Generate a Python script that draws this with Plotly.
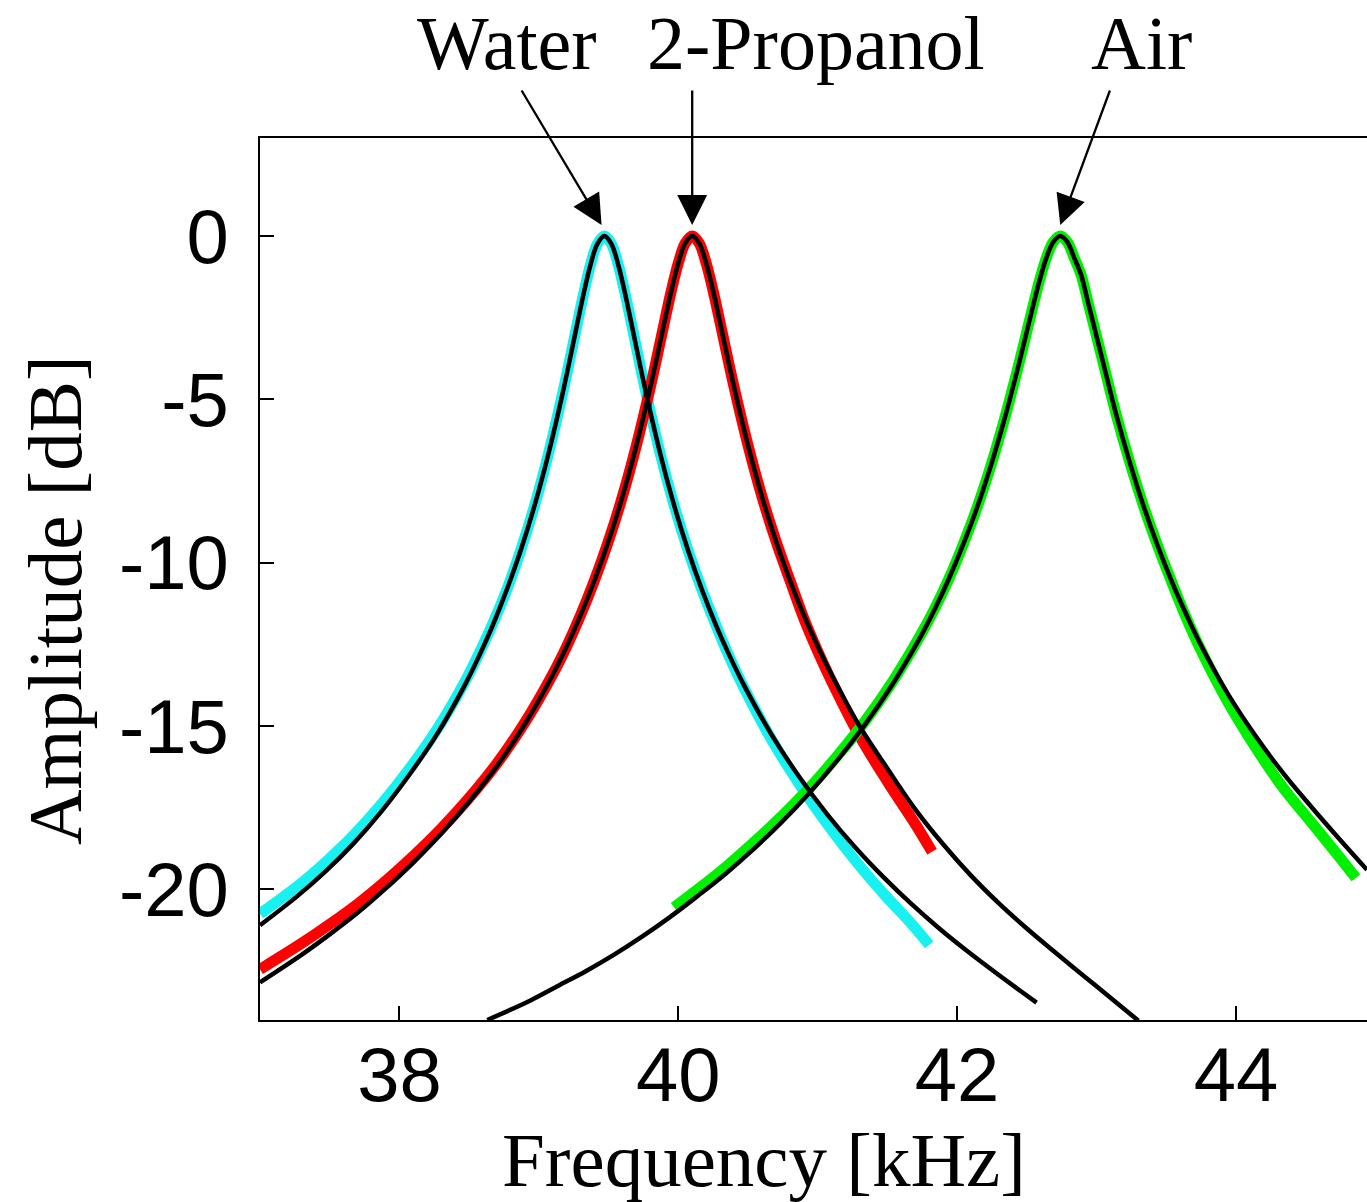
import plotly.graph_objects as go

# ---- Data ----
# Water: fitted curve (black)
water_fit_x = [37.00, 37.27, 37.47, 37.67, 37.87, 38.07, 38.27, 38.47, 38.57, 38.67, 38.77, 38.87, 38.97, 39.07,
               39.17, 39.22, 39.27, 39.32, 39.37, 39.42, 39.47, 39.52, 39.57, 39.62, 39.67, 39.72, 39.77, 39.87,
               39.97, 40.07, 40.17, 40.27, 40.37, 40.47, 40.67, 40.87, 41.07, 41.27, 41.47, 41.67, 41.87, 42.07,
               42.27, 42.47, 42.57]
water_fit_y = [-21.1, -20.2, -19.45, -18.6, -17.62, -16.5, -15.25, -13.74, -12.87, -11.91, -10.83, -9.62, -8.24, -6.65,
               -4.83, -3.83, -2.80, -1.79, -0.89, -0.24, 0.0, -0.24, -0.89, -1.79, -2.80, -3.83, -4.83, -6.65,
               -8.24, -9.62, -10.83, -11.91, -12.87, -13.74, -15.27, -16.57, -17.71, -18.72, -19.62, -20.44, -21.19, -21.88,
               -22.53, -23.16, -23.47]
# Water: measured (cyan)
water_x = [37.00, 37.27, 37.47, 37.67, 37.87, 38.07, 38.27, 38.47, 38.57, 38.67, 38.77, 38.87, 38.97, 39.07,
           39.17, 39.22, 39.27, 39.32, 39.37, 39.42, 39.47, 39.52, 39.57, 39.62, 39.67, 39.72, 39.77, 39.87,
           39.97, 40.07, 40.17, 40.27, 40.37, 40.47, 40.67, 40.87, 41.07, 41.27, 41.47, 41.67, 41.80]
water_y = [-20.75, -19.9, -19.17, -18.35, -17.4, -16.32, -15.1, -13.64, -12.79, -11.86, -10.83, -9.62, -8.24, -6.65,
           -4.83, -3.83, -2.80, -1.79, -0.89, -0.24, 0.0, -0.24, -0.89, -1.79, -2.80, -3.83, -4.83, -6.65,
           -8.24, -9.62, -10.83, -11.91, -12.92, -13.82, -15.42, -16.79, -18.01, -19.12, -20.12, -21.04, -21.7]

# 2-Propanol: fitted curve (black)
prop_fit_x = [37.00, 37.30, 37.50, 37.70, 37.90, 38.10, 38.30, 38.50, 38.70, 38.90, 39.10, 39.20, 39.30, 39.40,
              39.50, 39.60, 39.70, 39.80, 39.85, 39.90, 39.95, 40.00, 40.05, 40.10, 40.15, 40.20, 40.25, 40.30,
              40.35, 40.40, 40.50, 40.60, 40.70, 40.80, 40.90, 41.00, 41.10, 41.30, 41.50, 41.70, 41.90, 42.10,
              42.30, 42.50, 42.70, 42.90, 43.10, 43.30]
prop_fit_y = [-22.85, -22.0, -21.38, -20.72, -19.98, -19.18, -18.3, -17.32, -16.22, -14.94, -13.43, -12.56, -11.60, -10.53,
              -9.33, -7.97, -6.40, -4.62, -3.65, -2.65, -1.68, -0.83, -0.22, 0.0, -0.22, -0.83, -1.68, -2.65,
              -3.65, -4.62, -6.40, -7.97, -9.33, -10.53, -11.60, -12.56, -13.43, -15.0, -16.3, -17.55, -18.62, -19.58,
              -20.43, -21.2, -21.92, -22.62, -23.32, -24.02]
# 2-Propanol: measured (red)
prop_x = [37.00, 37.30, 37.50, 37.70, 37.90, 38.10, 38.30, 38.50, 38.70, 38.90, 39.10, 39.20, 39.30, 39.40,
          39.50, 39.60, 39.70, 39.80, 39.85, 39.90, 39.95, 40.00, 40.05, 40.10, 40.15, 40.20, 40.25, 40.30,
          40.35, 40.40, 40.50, 40.60, 40.70, 40.80, 40.90, 41.00, 41.10, 41.30, 41.50, 41.70, 41.82]
prop_y = [-22.45, -21.65, -21.07, -20.45, -19.75, -18.98, -18.14, -17.2, -16.14, -14.89, -13.41, -12.56, -11.60, -10.53,
          -9.33, -7.97, -6.40, -4.62, -3.65, -2.65, -1.68, -0.83, -0.22, 0.0, -0.22, -0.83, -1.68, -2.65,
          -3.65, -4.62, -6.40, -7.97, -9.33, -10.53, -11.7, -12.71, -13.63, -15.3, -16.7, -18.0, -18.85]

# Air: fitted curve (black)
air_fit_x = [38.63, 38.94, 39.14, 39.34, 39.54, 39.74, 39.94, 40.14, 40.34, 40.54, 40.74, 40.94, 41.14, 41.34,
             41.54, 41.74, 41.84, 41.94, 42.04, 42.14, 42.24, 42.34, 42.44, 42.49, 42.54, 42.59, 42.64, 42.69,
             42.74, 42.79, 42.84, 42.89, 42.94, 42.99, 43.04, 43.14, 43.24, 43.34, 43.44, 43.54, 43.64, 43.74,
             43.94, 44.14, 44.34, 44.54, 44.74, 44.94]
air_fit_y = [-24.0, -23.4, -22.95, -22.5, -22.0, -21.45, -20.85, -20.2, -19.52, -18.77, -17.95, -17.05, -16.05, -14.95,
             -13.7, -12.25, -11.42, -10.5, -9.48, -8.35, -7.06, -5.6, -3.97, -3.1, -2.22, -1.38, -0.67, -0.18,
             0.0, -0.18, -0.67, -1.2, -2.05, -2.9, -3.75, -5.45, -6.95, -8.3, -9.5, -10.58, -11.55, -12.45,
             -14.0, -15.3, -16.45, -17.47, -18.45, -19.4]
# Air: measured (green)
air_x = [39.97, 40.14, 40.34, 40.54, 40.74, 40.94, 41.14, 41.34, 41.54, 41.74, 41.84, 41.94, 42.04, 42.14,
         42.24, 42.34, 42.44, 42.49, 42.54, 42.59, 42.64, 42.69, 42.74, 42.79, 42.84, 42.89, 42.94, 42.99,
         43.04, 43.14, 43.24, 43.34, 43.44, 43.54, 43.64, 43.74, 43.94, 44.14, 44.34, 44.54, 44.74, 44.86]
air_y = [-20.55, -20.0, -19.32, -18.57, -17.77, -16.9, -15.92, -14.85, -13.62, -12.2, -11.4, -10.5, -9.48, -8.35,
         -7.06, -5.6, -3.97, -3.1, -2.22, -1.38, -0.67, -0.18, 0.0, -0.18, -0.67, -1.2, -2.05, -2.9,
         -3.75, -5.45, -6.95, -8.3, -9.5, -10.6, -11.65, -12.6, -14.25, -15.65, -16.9, -17.95, -19.0, -19.65]

x_ticks = [38, 40, 42, 44]
y_ticks = [0, -5, -10, -15, -20]
labels = ["Water", "2-Propanol", "Air"]
label_x = [38.77, 40.99, 43.32]
arrow_tip_x = [39.45, 40.10, 42.74]
arrow_tail_x = [38.87, 40.10, 43.10]

SERIF = "Liberation Serif, Times New Roman, serif"
SANS = "Liberation Sans, Arial, sans-serif"

W, H = 1367, 1202
L, R, T, B = 260, 0, 138, 182
pw, ph = W - L - R, H - T - B


def px_x(px):
    return (px - L) / pw


def px_y(py):
    return (H - B - py) / ph


fig = go.Figure()

for xs, ys, col in [(water_x, water_y, "#19F0F0"), (prop_x, prop_y, "#FF0000"), (air_x, air_y, "#00F000")]:
    fig.add_trace(go.Scatter(x=xs, y=ys, mode="lines", line=dict(color=col, width=11, shape="spline"),
                             showlegend=False, hoverinfo="skip"))

for xs, ys in [(water_fit_x, water_fit_y), (prop_fit_x, prop_fit_y), (air_fit_x, air_fit_y)]:
    fig.add_trace(go.Scatter(x=xs, y=ys, mode="lines", line=dict(color="black", width=4.5, shape="spline"),
                             showlegend=False, hoverinfo="skip"))

# Labels with arrows
for txt, lx, tx, ax in zip(labels, label_x, arrow_tip_x, arrow_tail_x):
    fig.add_annotation(x=lx, y=px_y(43), xref="x", yref="paper", text=txt, showarrow=False,
                       xanchor="center", yanchor="middle",
                       font=dict(family=SERIF, size=76, color="black"))
    fig.add_annotation(x=tx, y=0.34, xref="x", yref="y", ax=ax, ay=4.5, axref="x", ayref="y",
                       text="", showarrow=True, arrowhead=2, arrowsize=2.6, arrowwidth=2.3,
                       arrowcolor="black")

# Axis titles
fig.add_annotation(x=px_x(764), y=px_y(1160), xref="paper", yref="paper", text="Frequency [kHz]",
                   showarrow=False, xanchor="center", yanchor="middle",
                   font=dict(family=SERIF, size=77, color="black"))
fig.add_annotation(x=px_x(55), y=px_y(600), xref="paper", yref="paper", text="Amplitude [dB]",
                   showarrow=False, textangle=-90, xanchor="center", yanchor="middle",
                   font=dict(family=SERIF, size=77, color="black"))

fig.update_layout(
    width=W, height=H,
    margin=dict(l=L, r=R, t=T, b=B, pad=0),
    paper_bgcolor="white", plot_bgcolor="white",
    xaxis=dict(range=[37, 44.94], tickvals=x_ticks, ticktext=[str(v) for v in x_ticks],
               ticks="inside", ticklen=14, tickwidth=1.5, tickcolor="black",
               showline=True, linecolor="black", linewidth=2, mirror=True,
               showgrid=False, zeroline=False, ticklabelstandoff=-12,
               tickfont=dict(family=SANS, size=76, color="black")),
    yaxis=dict(range=[-24, 3], tickvals=y_ticks, ticktext=[str(v) for v in y_ticks],
               ticks="inside", ticklen=14, tickwidth=1.5, tickcolor="black",
               showline=True, linecolor="black", linewidth=2, mirror=False,
               showgrid=False, zeroline=False, ticklabelstandoff=14,
               tickfont=dict(family=SANS, size=76, color="black")),
)

fig.write_html("out.html")
